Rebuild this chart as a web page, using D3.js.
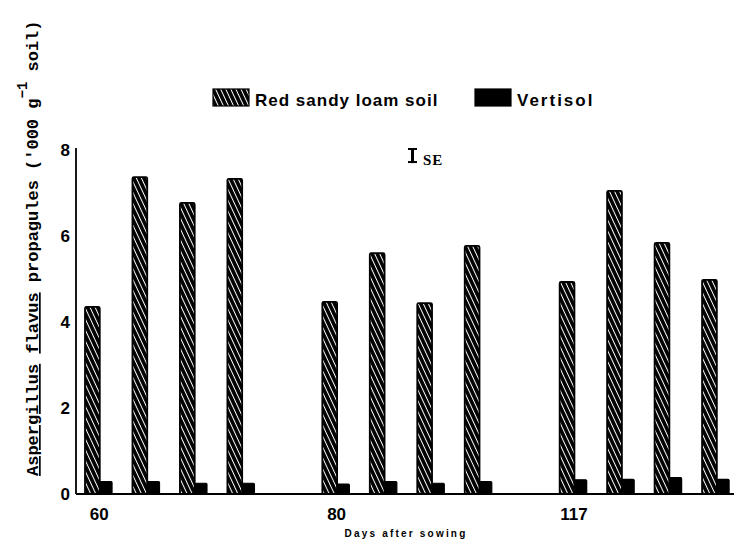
<!DOCTYPE html>
<html>
<head>
<meta charset="utf-8">
<script src="https://cdn.jsdelivr.net/npm/d3@7"></script>
<style>
  body { margin: 0; background: #fff; }
  svg { display: block; }
</style>
</head>
<body>
<svg id="chart" width="734" height="540"></svg>
<script>
// values, four plots per sampling date
var days = ["60", "80", "117"];
var plotsPerDay = 4;
var redSandy = [4.35, 7.37, 6.77, 7.33, 4.47, 5.60, 4.44, 5.77, 4.93, 7.05, 5.84, 4.98];
var vertisol = [0.29, 0.29, 0.25, 0.25, 0.23, 0.29, 0.25, 0.29, 0.33, 0.34, 0.38, 0.34];
var yTicks = [0, 2, 4, 6, 8];
var seValue = 0.35;
var legendLabels = ["Red sandy loam soil", "Vertisol"];

var svg = d3.select("#chart");

var defs = svg.append("defs");
var hatch = defs.append("pattern")
    .attr("id", "hatch")
    .attr("patternUnits", "userSpaceOnUse")
    .attr("width", 4.6)
    .attr("height", 5)
    .attr("patternTransform", "rotate(-25)");
hatch.append("rect").attr("width", 4.6).attr("height", 5).attr("fill", "#000");
hatch.append("line")
    .attr("x1", 2.3).attr("y1", -1).attr("x2", 2.3).attr("y2", 6)
    .attr("stroke", "#fff").attr("stroke-width", 1);

// one slot per plot, an empty slot between dates
var nSlots = days.length * (plotsPerDay + 1) - 1;
var x = d3.scaleBand()
    .domain(d3.range(nSlots))
    .range([85, 729.6])
    .paddingInner(0.42);

var xSeries = d3.scaleBand()
    .domain(["red", "vert"])
    .range([0, x.bandwidth()]);

var y = d3.scaleLinear().domain([0, 8]).range([494, 150]);

function slotOf(i) {
    return Math.floor(i / plotsPerDay) * (plotsPerDay + 1) + (i % plotsPerDay);
}

// bars
svg.append("g").selectAll("rect")
    .data(redSandy)
    .join("rect")
    .attr("x", function(d, i) { return x(slotOf(i)) + xSeries("red"); })
    .attr("y", function(d) { return y(d); })
    .attr("width", xSeries.bandwidth() + 1)
    .attr("height", function(d) { return y(0) - y(d); })
    .attr("rx", 1.5)
    .attr("fill", "url(#hatch)")
    .attr("stroke", "#000")
    .attr("stroke-width", 1.8);

svg.append("g").selectAll("rect")
    .data(vertisol)
    .join("rect")
    .attr("x", function(d, i) { return x(slotOf(i)) + xSeries("vert") + 1; })
    .attr("y", function(d) { return y(d); })
    .attr("width", xSeries.bandwidth() - 1.5)
    .attr("height", function(d) { return y(0) - y(d); })
    .attr("rx", 1)
    .attr("fill", "#000")
    .attr("stroke", "#000")
    .attr("stroke-width", 1.2);

// axes
svg.append("line")
    .attr("x1", 76).attr("x2", 734)
    .attr("y1", y(0)).attr("y2", y(0))
    .attr("stroke", "#000").attr("stroke-width", 1.8);
svg.append("line")
    .attr("x1", 76).attr("x2", 76)
    .attr("y1", y(8) - 2).attr("y2", y(0))
    .attr("stroke", "#000").attr("stroke-width", 1.8);

var yAxis = svg.append("g")
    .attr("transform", "translate(76,0)")
    .call(d3.axisLeft(y).tickValues(yTicks).tickSize(0).tickPadding(6).tickFormat(d3.format("d")));
yAxis.select(".domain").remove();
yAxis.selectAll("text")
    .attr("font-family", "Liberation Sans, Arial, sans-serif")
    .attr("font-weight", "bold")
    .attr("font-size", 17)
    .attr("fill", "#000");

var xDay = d3.scaleOrdinal()
    .domain(days)
    .range(days.map(function(d, i) {
        return x(i * (plotsPerDay + 1)) + x.bandwidth() / 2;
    }));
var xAxis = svg.append("g")
    .attr("transform", "translate(0," + y(0) + ")")
    .call(d3.axisBottom(xDay).tickSize(0).tickPadding(14));
xAxis.select(".domain").remove();
xAxis.selectAll("text")
    .attr("font-family", "Liberation Sans, Arial, sans-serif")
    .attr("font-weight", "bold")
    .attr("font-size", 17)
    .attr("fill", "#000");

svg.append("text")
    .attr("x", 406)
    .attr("y", 537)
    .attr("text-anchor", "middle")
    .attr("font-family", "Liberation Sans, Arial, sans-serif")
    .attr("font-weight", "bold")
    .attr("font-size", 10)
    .attr("letter-spacing", 2.2)
    .text("Days after sowing");

// y label, rotated, with underlined genus and species
var yLabel = svg.append("text")
    .attr("transform", "translate(38,476) rotate(-90)")
    .attr("font-family", "Liberation Mono, Courier New, monospace")
    .attr("font-weight", "bold")
    .attr("font-size", 17)
    .attr("fill", "#000");
yLabel.append("tspan").attr("text-decoration", "underline").text("Aspergillus");
yLabel.append("tspan").text(" ");
yLabel.append("tspan").attr("text-decoration", "underline").text("flavus");
yLabel.append("tspan").text(" propagules ('000 g");
yLabel.append("tspan").attr("dy", -11).attr("font-size", 14).text("\u22121");
yLabel.append("tspan").attr("dy", 11).text(" soil)");

// legend
var legendBoxes = [213, 475];
var legend = svg.append("g").selectAll("g")
    .data(legendLabels)
    .join("g")
    .attr("transform", function(d, i) { return "translate(" + legendBoxes[i] + ",89)"; });
legend.append("rect")
    .attr("width", 36)
    .attr("height", 17)
    .attr("fill", function(d, i) { return i === 0 ? "url(#hatch)" : "#000"; })
    .attr("stroke", "#000")
    .attr("stroke-width", 1.2);
legend.append("text")
    .attr("x", 42)
    .attr("y", 17)
    .attr("font-family", "Liberation Sans, Arial, sans-serif")
    .attr("font-weight", "bold")
    .attr("font-size", 17)
    .attr("letter-spacing", function(d, i) { return i === 0 ? 1 : 2; })
    .text(function(d) { return d; });

// standard error marker
var seX = 412.5, seTop = 148;
var seBottom = seTop + (y(0) - y(seValue));
var se = svg.append("g").attr("stroke", "#000");
se.append("line").attr("x1", seX).attr("x2", seX).attr("y1", seTop).attr("y2", seBottom).attr("stroke-width", 3);
se.append("line").attr("x1", seX - 4.5).attr("x2", seX + 4.5).attr("y1", seTop + 1).attr("y2", seTop + 1).attr("stroke-width", 2);
se.append("line").attr("x1", seX - 4.5).attr("x2", seX + 4.5).attr("y1", seBottom - 1).attr("y2", seBottom - 1).attr("stroke-width", 2);
svg.append("text")
    .attr("x", 423)
    .attr("y", 165)
    .attr("font-family", "Liberation Serif, DejaVu Serif, serif")
    .attr("font-weight", "bold")
    .attr("font-size", 15)
    .attr("letter-spacing", 1)
    .text("SE");
</script>
</body>
</html>
